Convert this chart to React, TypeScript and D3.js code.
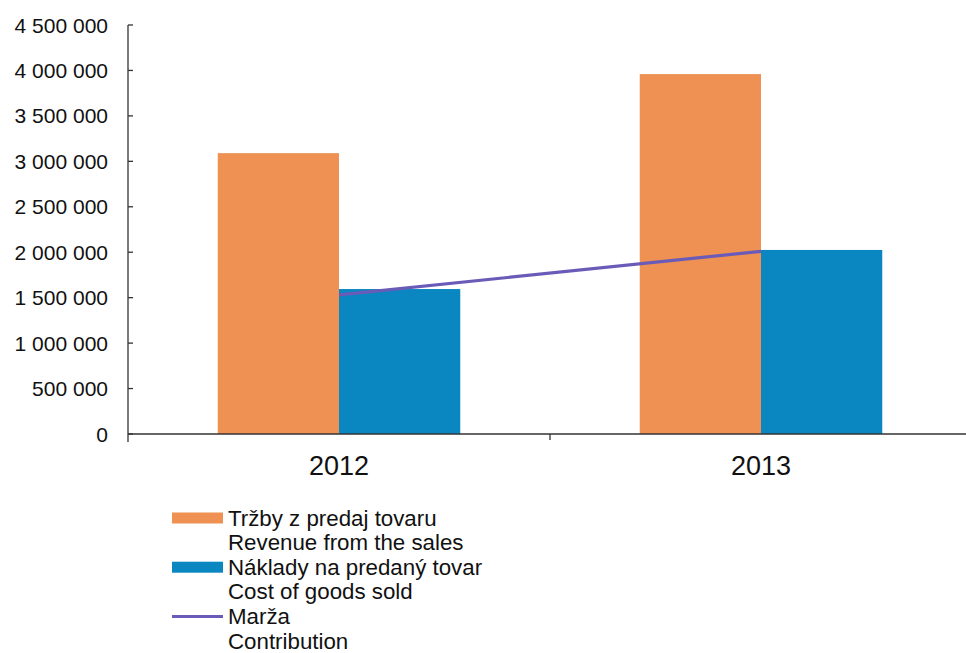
import React from "react";
import * as d3 from "d3";

const categories = ["2012", "2013"];
const revenue = [3090000, 3960000];
const cost = [1595000, 2025000];
const margin = [1530000, 2010000];
const yTicks = [0, 500000, 1000000, 1500000, 2000000, 2500000, 3000000, 3500000, 4000000, 4500000];
const legendItems = [
  { kind: "bar", color: "#EE9152", lines: ["Tržby z predaj tovaru", "Revenue from the sales"] },
  { kind: "bar", color: "#0A87C0", lines: ["Náklady na predaný tovar", "Cost of goods sold"] },
  { kind: "line", color: "#6A5BB8", lines: ["Marža", "Contribution"] },
];

const W = 966;
const H = 653;
const FONT = "'Liberation Sans', Arial, sans-serif";

export default function App() {
  const left = 128;
  const right = 972;
  const top = 25;
  const bottom = 434;

  const y = d3.scaleLinear().domain([0, 4500000]).range([bottom, top]);
  const x0 = d3.scaleBand<string>().domain(categories).range([left, right]).padding(0);
  const series = ["rev", "cost"];
  const x1 = d3
    .scaleBand<string>()
    .domain(series)
    .range([0, x0.bandwidth()])
    .paddingInner(0)
    .paddingOuter(0.74);

  const fmt = (v: number) => d3.format(",")(v).replace(/,/g, " ");

  const lineGen = d3
    .line<number>()
    .x((_, i) => (x0(categories[i]) as number) + x0.bandwidth() / 2)
    .y((d) => y(d));

  const legendX = 172;
  const legendTextX = 228;
  const legendBase = 518;
  const lineStep = 24.6;

  return (
    <svg
      width={W}
      height={H}
      style={{ position: "absolute", left: 0, top: 0, background: "#fff" }}
      fontFamily={FONT}
    >
      <rect x={0} y={0} width={W} height={H} fill="#fff" />
      {categories.map((c, i) => (
        <g key={c}>
          <rect
            x={(x0(c) as number) + (x1("rev") as number)}
            y={y(revenue[i])}
            width={x1.bandwidth()}
            height={bottom - y(revenue[i])}
            fill="#EE9152"
          />
          <rect
            x={(x0(c) as number) + (x1("cost") as number)}
            y={y(cost[i])}
            width={x1.bandwidth()}
            height={bottom - y(cost[i])}
            fill="#0A87C0"
          />
        </g>
      ))}
      <path d={lineGen(margin) || ""} fill="none" stroke="#6A5BB8" strokeWidth={3.2} />
      <line x1={left} x2={left} y1={top} y2={bottom + 8} stroke="#333" strokeWidth={1.3} />
      {yTicks.map((t) => (
        <g key={t}>
          <line x1={left} x2={left + 5} y1={y(t)} y2={y(t)} stroke="#333" strokeWidth={1.3} />
          <text
            x={108}
            y={y(t)}
            textAnchor="end"
            dominantBaseline="central"
            fontSize={21}
            fill="#111"
          >
            {fmt(t)}
          </text>
        </g>
      ))}
      <line x1={left} x2={W} y1={bottom} y2={bottom} stroke="#333" strokeWidth={1.3} />
      {categories.map((c) => (
        <line
          key={"t" + c}
          x1={(x0(c) as number) + x0.bandwidth()}
          x2={(x0(c) as number) + x0.bandwidth()}
          y1={bottom}
          y2={bottom + 6}
          stroke="#333"
          strokeWidth={1.3}
        />
      ))}
      {categories.map((c) => (
        <text
          key={"l" + c}
          x={(x0(c) as number) + x0.bandwidth() / 2}
          y={475}
          textAnchor="middle"
          fontSize={27}
          fill="#111"
        >
          {c}
        </text>
      ))}
      {legendItems.map((it, i) => {
        const cy = legendBase + i * 2 * lineStep;
        return (
          <g key={i}>
            {it.kind === "bar" ? (
              <rect x={legendX} y={cy - 5.5} width={51} height={11} fill={it.color} />
            ) : (
              <line x1={legendX} x2={legendX + 51} y1={cy} y2={cy} stroke={it.color} strokeWidth={3} />
            )}
            {it.lines.map((l, j) => (
              <text
                key={j}
                x={legendTextX}
                y={cy + j * lineStep}
                dominantBaseline="central"
                fontSize={22.3}
                fill="#111"
              >
                {l}
              </text>
            ))}
          </g>
        );
      })}
    </svg>
  );
}
